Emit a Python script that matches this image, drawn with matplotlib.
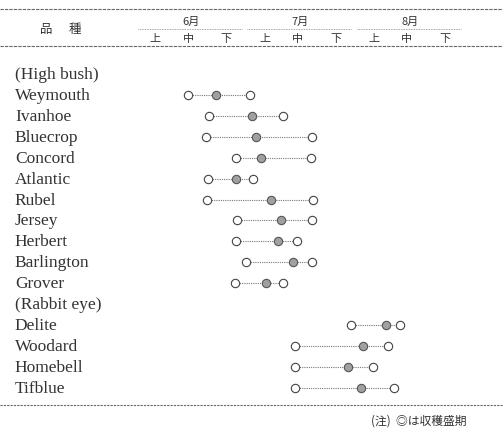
import matplotlib.pyplot as plt

# 収穫期間 (旬単位: 0 = 6月1日, 3 = 7月1日, 6 = 8月1日, 9 = 8月末)
varieties = ['(High bush)', 'Weymouth', 'Ivanhoe', 'Bluecrop', 'Concord', 'Atlantic',
             'Rubel', 'Jersey', 'Herbert', 'Barlington', 'Grover', '(Rabbit eye)',
             'Delite', 'Woodard', 'Homebell', 'Tifblue']
start = [None, 1.40, 1.98, 1.89, 2.72, 1.95, 1.92, 2.74, 2.72, 2.99, 2.69, None,
         5.87, 4.34, 4.34, 4.34]
peak = [None, 2.17, 3.16, 3.27, 3.40, 2.72, 3.68, 3.95, 3.87, 4.28, 3.54, None,
        6.83, 6.20, 5.79, 6.15]
end = [None, 3.10, 4.01, 4.80, 4.77, 3.18, 4.83, 4.80, 4.39, 4.80, 4.01, None,
       7.22, 6.89, 6.48, 7.05]
months = ['6月', '7月', '8月']
dekads = ['上', '中', '下']

latin = ['Liberation Serif', 'DejaVu Serif']
cjk = ['Noto Sans CJK JP', 'DejaVu Sans']
ink = '#333333'

fig = plt.figure(figsize=(5.03, 4.31), dpi=100)
ax = fig.add_axes([0, 0, 1, 1])
ax.set_xlim(-3.76, 10.04)
ax.set_ylim(17.01, -3.58)
ax.axis('off')

# 罫線
ax.axhline(-3.11, color='#666666', lw=0.8, ls=(0, (3, 1)))
ax.axhline(-1.34, color='#666666', lw=0.8, ls=(0, (3, 1)))
ax.axhline(15.81, color='#666666', lw=0.8, ls=(0, (2, 1)))

# 見出し
ax.text(-2.5, -2.15, '品', family=cjk, fontsize=9, color=ink, ha='center', va='center')
ax.text(-1.7, -2.15, '種', family=cjk, fontsize=9, color=ink, ha='center', va='center')
dek_offset = [0.5, 1.4, 2.45]
for m, name in enumerate(months):
    x0 = m * 3 + 0.03
    ax.plot([x0, x0 + 2.85], [-2.15, -2.15], color='#888888', lw=0.6, ls=(0, (1, 1)))
    ax.text(x0 + 1.45, -2.55, name, family=cjk, fontsize=8, color=ink,
            ha='center', va='center')
    for k, d in enumerate(dekads):
        ax.text(m * 3 + dek_offset[k], -1.72, d, family=cjk, fontsize=8,
                color=ink, ha='center', va='center')

# 品種と収穫期
for i, name in enumerate(varieties):
    ax.text(-3.35, i, name, family=latin, fontsize=12.5, color=ink,
            ha='left', va='center')
    if start[i] is None:
        continue
    ax.plot([start[i], end[i]], [i, i], color='#777777', lw=0.8, ls=(0, (1, 1)), zorder=1)
    ax.plot([start[i], end[i]], [i, i], ls='none', marker='o', ms=6,
            mfc='white', mec='#444444', mew=0.8, zorder=2)
    ax.plot(peak[i], i, ls='none', marker='o', ms=6,
            mfc='#a0a0a0', mec='#555555', mew=0.8, zorder=3)

# 注
ax.text(9.05, 16.55, '(注)  ◎は収穫盛期', family=cjk, fontsize=8.5, color=ink,
        ha='right', va='center')

fig.savefig('out.png', dpi=100)
